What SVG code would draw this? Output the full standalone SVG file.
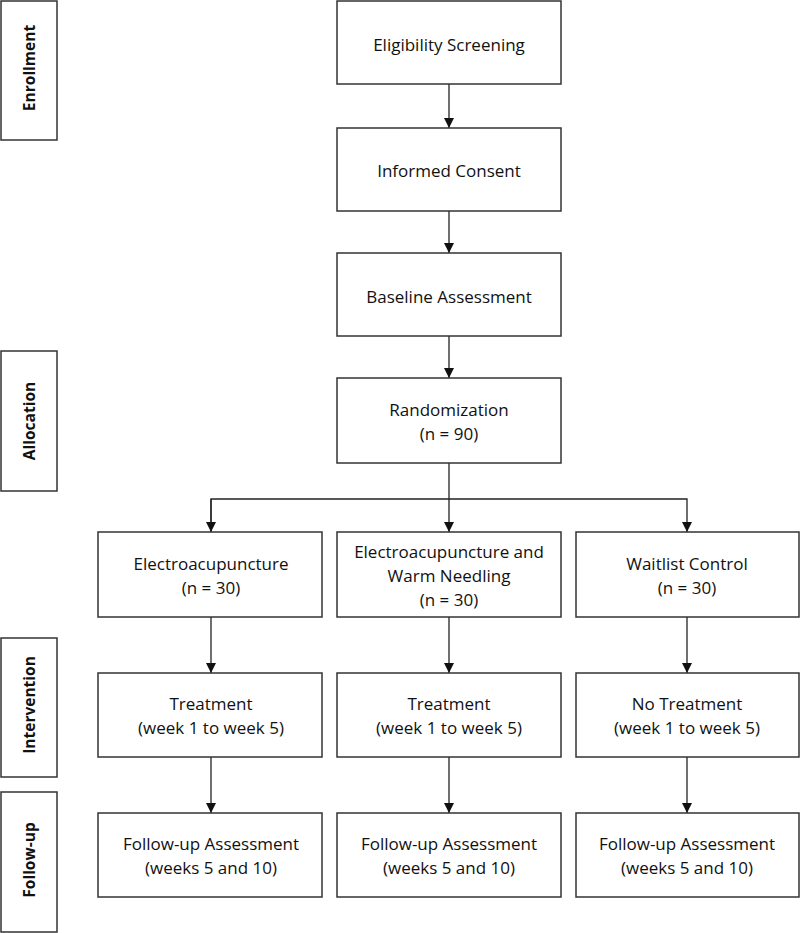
<svg xmlns="http://www.w3.org/2000/svg" width="800" height="933" viewBox="0 0 800 933">
<style>
.box{fill:#fff;stroke:#333;stroke-width:1.5}
.t{font-family:"Open Sans","Noto Sans",sans-serif;font-size:17px;fill:#111;text-anchor:middle;dominant-baseline:central}
.lab{font-family:"Open Sans","Noto Sans",sans-serif;font-size:15.5px;font-weight:bold;fill:#111;text-anchor:middle;dominant-baseline:central}
.c{fill:none;stroke:#222;stroke-width:1.3}
</style>
<defs>
<marker id="ah" viewBox="0 0 10 10" refX="10" refY="5" markerWidth="10" markerHeight="10" markerUnits="userSpaceOnUse" orient="auto">
<path d="M0,0 L10,5 L0,10 z" fill="#111"/>
</marker>
</defs>
<rect width="800" height="933" fill="#fff"/>
<g id="stage-enrollment"><rect class="box" x="1" y="1" width="56" height="139"/><text class="lab" transform="translate(29,68) rotate(-90)">Enrollment</text></g>
<g id="stage-allocation"><rect class="box" x="1" y="351" width="56" height="140"/><text class="lab" transform="translate(29,421) rotate(-90)">Allocation</text></g>
<g id="stage-intervention"><rect class="box" x="1" y="638" width="56" height="139"/><text class="lab" transform="translate(29,705) rotate(-90)">Intervention</text></g>
<g id="stage-followup"><rect class="box" x="1" y="792" width="56" height="140"/><text class="lab" transform="translate(29,860) rotate(-90)">Follow-up</text></g>

<g id="connectors">
<line class="c" x1="449" y1="84" x2="449" y2="128" marker-end="url(#ah)"/>
<line class="c" x1="449" y1="211" x2="449" y2="253" marker-end="url(#ah)"/>
<line class="c" x1="449" y1="336" x2="449" y2="378" marker-end="url(#ah)"/>
<line class="c" x1="449" y1="463" x2="449" y2="532" marker-end="url(#ah)"/>
<polyline class="c" points="211,532 211,499 687,499 687,532" marker-end="url(#ah)"/>
<line class="c" x1="211" y1="499" x2="211" y2="532" marker-end="url(#ah)"/>
<line class="c" x1="211" y1="617" x2="211" y2="673" marker-end="url(#ah)"/>
<line class="c" x1="449" y1="617" x2="449" y2="673" marker-end="url(#ah)"/>
<line class="c" x1="687" y1="617" x2="687" y2="673" marker-end="url(#ah)"/>
<line class="c" x1="211" y1="757" x2="211" y2="813" marker-end="url(#ah)"/>
<line class="c" x1="449" y1="757" x2="449" y2="813" marker-end="url(#ah)"/>
<line class="c" x1="687" y1="757" x2="687" y2="813" marker-end="url(#ah)"/>
</g>

<g id="eligibility"><rect class="box" x="337" y="1" width="224" height="83"/><text class="t" x="449" y="44">Eligibility Screening</text></g>
<g id="consent"><rect class="box" x="337" y="128" width="224" height="83"/><text class="t" x="449" y="170">Informed Consent</text></g>
<g id="baseline"><rect class="box" x="337" y="253" width="224" height="83"/><text class="t" x="449" y="296">Baseline Assessment</text></g>
<g id="randomization"><rect class="box" x="337" y="378" width="224" height="85"/><text class="t" x="449" y="409">Randomization</text><text class="t" x="449" y="433">(n = 90)</text></g>

<g id="group-ea"><rect class="box" x="98" y="532" width="224" height="85"/><text class="t" x="211" y="563">Electroacupuncture</text><text class="t" x="211" y="587">(n = 30)</text></g>
<g id="group-eawn"><rect class="box" x="337" y="532" width="224" height="85"/><text class="t" x="449" y="551">Electroacupuncture and</text><text class="t" x="449" y="575">Warm Needling</text><text class="t" x="449" y="599">(n = 30)</text></g>
<g id="group-wl"><rect class="box" x="576" y="532" width="223" height="85"/><text class="t" x="687" y="563">Waitlist Control</text><text class="t" x="687" y="587">(n = 30)</text></g>

<g id="treat-ea"><rect class="box" x="98" y="673" width="224" height="84"/><text class="t" x="211" y="703">Treatment</text><text class="t" x="211" y="727">(week 1 to week 5)</text></g>
<g id="treat-eawn"><rect class="box" x="337" y="673" width="224" height="84"/><text class="t" x="449" y="703">Treatment</text><text class="t" x="449" y="727">(week 1 to week 5)</text></g>
<g id="treat-wl"><rect class="box" x="576" y="673" width="223" height="84"/><text class="t" x="687" y="703">No Treatment</text><text class="t" x="687" y="727">(week 1 to week 5)</text></g>

<g id="fu-ea"><rect class="box" x="98" y="813" width="224" height="84"/><text class="t" x="211" y="843">Follow-up Assessment</text><text class="t" x="211" y="867">(weeks 5 and 10)</text></g>
<g id="fu-eawn"><rect class="box" x="337" y="813" width="224" height="84"/><text class="t" x="449" y="843">Follow-up Assessment</text><text class="t" x="449" y="867">(weeks 5 and 10)</text></g>
<g id="fu-wl"><rect class="box" x="576" y="813" width="223" height="84"/><text class="t" x="687" y="843">Follow-up Assessment</text><text class="t" x="687" y="867">(weeks 5 and 10)</text></g>
</svg>
